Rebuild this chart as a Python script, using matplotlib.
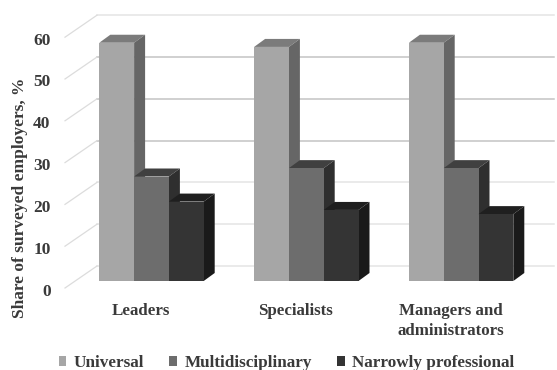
import matplotlib
matplotlib.use("Agg")
import matplotlib.pyplot as plt
from matplotlib.patches import Patch

categories = ["Leaders", "Specialists", "Managers and\nadministrators"]
series_names = ["Universal", "Multidisciplinary", "Narrowly professional"]
universal = [57, 56, 57]
multidisciplinary = [25, 27, 27]
narrowly_professional = [19, 17, 16]
y_ticks = [0, 10, 20, 30, 40, 50, 60]

FRONT = ["#a6a6a6", "#6d6d6d", "#343434"]
TOP = ["#7b7b7b", "#404040", "#1f1f1f"]
SIDE = ["#666666", "#2f2f2f", "#1a1a1a"]
TEXT = "#3a3a3a"
FONT = "Liberation Serif"

W, H = 557, 370
X_UNIT = 154.8      # pixels per category
Y_UNIT = 4.18       # pixels per percentage point
X0_PX, Y0_PX = 151.5, 281

fig = plt.figure(figsize=(W / 100, H / 100), dpi=100, facecolor="white")
ax = fig.add_axes([0, 0, 1, 1])
ax.set_xlim(-X0_PX / X_UNIT, (W - X0_PX) / X_UNIT)
ax.set_ylim((Y0_PX - H) / Y_UNIT, Y0_PX / Y_UNIT)
ax.axis("off")


def dx(px):
    return px / X_UNIT


def dy(px):
    return px / Y_UNIT


BAR_W = dx(34.8)
BAR_DX, BAR_DY = dx(11), dy(8)

# Back wall and side wall of the 3-D box
wall_left = dx(97 - X0_PX)
wall_front = dx(65 - X0_PX)
wall_right = dx(554 - X0_PX)
back_lift = dy(15)
front_drop = dy(7)
for v in y_ticks:
    shade = "#c4c4c4" if 30 <= v <= 50 else "#e4e4e4"
    ax.plot([wall_left, wall_right], [v + back_lift] * 2, color=shade, lw=1.1, zorder=1)
    ax.plot([wall_front, wall_left], [v - front_drop, v + back_lift],
            color="#dcdcdc", lw=0.9, zorder=1)
    ax.text(dx(50.5 - X0_PX), v - front_drop - dy(1.5), str(v), ha="right", va="center_baseline",
            family=FONT, weight="bold", fontsize=12.5, color=TEXT)

# Bars: left to right so that each top overlaps the neighbouring side face
for g in range(len(categories)):
    values = [universal[g], multidisciplinary[g], narrowly_professional[g]]
    for s, v in enumerate(values):
        x0 = g - 1.5 * BAR_W + s * BAR_W
        x1 = x0 + BAR_W
        z = 3 + g + s * 0.1
        ax.fill([x0, x1, x1, x0], [0, 0, v, v], color=FRONT[s], lw=0, zorder=z + 0.02)
        ax.fill([x0, x1, x1 + BAR_DX, x0 + BAR_DX],
                [v, v, v + BAR_DY, v + BAR_DY], color=TOP[s], lw=0, zorder=z)
        ax.fill([x1, x1 + BAR_DX, x1 + BAR_DX, x1],
                [0, BAR_DY, v + BAR_DY, v], color=SIDE[s], lw=0, zorder=z)

# Category labels sit slightly left of their groups
for g, label in enumerate(categories):
    ax.text(g + dx(-10.5), dy(281 - 303), label, ha="center", va="top",
            family=FONT, weight="bold", fontsize=12.2, color=TEXT, linespacing=1.32)

ax.text(dx(19.5 - X0_PX), dy(281 - 198), "Share of surveyed employers, %", rotation=90,
        ha="center", va="center", family=FONT, weight="bold", fontsize=12.5, color=TEXT)

handles = [Patch(facecolor=c, edgecolor="none") for c in FRONT]
ax.legend(handles, series_names, loc="center", bbox_to_anchor=(286.5 / W, 1 - 363 / H),
          ncol=3, frameon=False, handlelength=0.45, handleheight=0.45, handletextpad=0.45,
          columnspacing=1.45, labelcolor=TEXT, borderpad=0,
          prop={"family": FONT, "weight": "bold", "size": 12.3})

fig.savefig("out.png", dpi=100)
